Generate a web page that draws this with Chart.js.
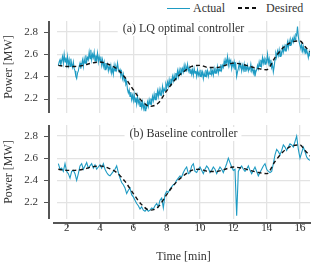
<!DOCTYPE html>
<html>
<head>
<meta charset="utf-8">
<script src="https://cdn.jsdelivr.net/npm/chart.js@4.4.1/dist/chart.umd.min.js"></script>
<style>
    html, body { margin: 0; padding: 0; background: #ffffff; }
    #wrap { position: relative; width: 311px; height: 265px; overflow: hidden; }
    #topChart { position: absolute; left: 0; top: 0; }
    #bottomChart { position: absolute; left: 0; top: 118px; }
    #legend {
        position: absolute; left: 167px; top: 1px; height: 14px;
        display: flex; align-items: center;
        font-family: "Liberation Serif", serif; font-size: 12px; color: #333333;
    }
    .legend-item { display: flex; align-items: center; margin-right: 13px; }
    .legend-line { width: 23px; height: 0; margin-right: 3px; }
</style>
</head>
<body>
<div id="wrap">
    <div id="legend"></div>
    <canvas id="topChart" width="311" height="118"></canvas>
    <canvas id="bottomChart" width="311" height="147"></canvas>
</div>
<script>
// (a) LQ optimal controller: sample times [min] and actual power [MW]
const lqTime = [
    1.50, 1.55, 1.60, 1.65, 1.70, 1.75, 1.80, 1.85, 1.90, 1.95,
    2.00, 2.05, 2.10, 2.15, 2.20, 2.25, 2.30, 2.35, 2.40, 2.45,
    2.50, 2.55, 2.60, 2.65, 2.70, 2.75, 2.80, 2.85, 2.90, 2.95,
    3.00, 3.05, 3.10, 3.15, 3.20, 3.25, 3.30, 3.35, 3.40, 3.45,
    3.50, 3.55, 3.60, 3.65, 3.70, 3.75, 3.80, 3.85, 3.90, 3.95,
    4.00, 4.05, 4.10, 4.15, 4.20, 4.25, 4.30, 4.35, 4.40, 4.45,
    4.50, 4.55, 4.60, 4.65, 4.70, 4.75, 4.80, 4.85, 4.90, 4.95,
    5.00, 5.05, 5.10, 5.15, 5.20, 5.25, 5.30, 5.35, 5.40, 5.45,
    5.50, 5.55, 5.60, 5.65, 5.70, 5.75, 5.80, 5.85, 5.90, 5.95,
    6.00, 6.05, 6.10, 6.15, 6.20, 6.25, 6.30, 6.35, 6.40, 6.45,
    6.50, 6.55, 6.60, 6.65, 6.70, 6.75, 6.80, 6.85, 6.90, 6.95,
    7.00, 7.05, 7.10, 7.15, 7.20, 7.25, 7.30, 7.35, 7.40, 7.45,
    7.50, 7.55, 7.60, 7.65, 7.70, 7.75, 7.80, 7.85, 7.90, 7.95,
    8.00, 8.05, 8.10, 8.15, 8.20, 8.25, 8.30, 8.35, 8.40, 8.45,
    8.50, 8.55, 8.60, 8.65, 8.70, 8.75, 8.80, 8.85, 8.90, 8.95,
    9.00, 9.05, 9.10, 9.15, 9.20, 9.25, 9.30, 9.35, 9.40, 9.45,
    9.50, 9.55, 9.60, 9.65, 9.70, 9.75, 9.80, 9.85, 9.90, 9.95,
    10.00, 10.05, 10.10, 10.15, 10.20, 10.25, 10.30, 10.35, 10.40, 10.45,
    10.50, 10.55, 10.60, 10.65, 10.70, 10.75, 10.80, 10.85, 10.90, 10.95,
    11.00, 11.05, 11.10, 11.15, 11.20, 11.25, 11.30, 11.35, 11.40, 11.45,
    11.50, 11.55, 11.60, 11.65, 11.70, 11.75, 11.80, 11.85, 11.90, 11.95,
    12.00, 12.05, 12.10, 12.15, 12.20, 12.25, 12.30, 12.35, 12.40, 12.45,
    12.50, 12.55, 12.60, 12.65, 12.70, 12.75, 12.80, 12.85, 12.90, 12.95,
    13.00, 13.05, 13.10, 13.15, 13.20, 13.25, 13.30, 13.35, 13.40, 13.45,
    13.50, 13.55, 13.60, 13.65, 13.70, 13.75, 13.80, 13.85, 13.90, 13.95,
    14.00, 14.05, 14.10, 14.15, 14.20, 14.25, 14.30, 14.35, 14.40, 14.45,
    14.50, 14.55, 14.60, 14.65, 14.70, 14.75, 14.80, 14.85, 14.90, 14.95,
    15.00, 15.05, 15.10, 15.15, 15.20, 15.25, 15.30, 15.35, 15.40, 15.45,
    15.50, 15.55, 15.60, 15.65, 15.70, 15.75, 15.80, 15.85, 15.90, 15.95,
    16.00, 16.05, 16.10, 16.15, 16.20, 16.25, 16.30, 16.35, 16.40, 16.45,
    16.50, 16.55, 16.60
];
const lqActual = [
    2.50, 2.53, 2.55, 2.50, 2.54, 2.58, 2.52, 2.60, 2.53, 2.57,
    2.51, 2.58, 2.50, 2.55, 2.49, 2.56, 2.51, 2.48, 2.53, 2.47,
    2.45, 2.40, 2.38, 2.43, 2.45, 2.49, 2.52, 2.47, 2.51, 2.55,
    2.49, 2.56, 2.52, 2.59, 2.53, 2.57, 2.55, 2.62, 2.56, 2.64,
    2.55, 2.60, 2.57, 2.62, 2.54, 2.59, 2.55, 2.61, 2.53, 2.58,
    2.54, 2.58, 2.50, 2.55, 2.49, 2.53, 2.46, 2.52, 2.48, 2.51,
    2.45, 2.49, 2.46, 2.50, 2.43, 2.47, 2.42, 2.50, 2.45, 2.49,
    2.46, 2.52, 2.47, 2.44, 2.46, 2.41, 2.44, 2.38, 2.42, 2.36,
    2.38, 2.33, 2.35, 2.28, 2.25, 2.28, 2.22, 2.26, 2.19, 2.23,
    2.18, 2.24, 2.17, 2.21, 2.15, 2.22, 2.16, 2.19, 2.13, 2.18,
    2.12, 2.17, 2.11, 2.15, 2.09, 2.14, 2.12, 2.17, 2.13, 2.19,
    2.15, 2.20, 2.16, 2.22, 2.18, 2.24, 2.19, 2.25, 2.21, 2.27,
    2.22, 2.28, 2.23, 2.27, 2.24, 2.31, 2.25, 2.29, 2.27, 2.33,
    2.30, 2.35, 2.31, 2.37, 2.32, 2.38, 2.34, 2.40, 2.36, 2.41,
    2.37, 2.43, 2.39, 2.45, 2.40, 2.46, 2.42, 2.48, 2.43, 2.47,
    2.44, 2.50, 2.45, 2.49, 2.46, 2.51, 2.45, 2.48, 2.43, 2.47,
    2.42, 2.46, 2.41, 2.47, 2.43, 2.45, 2.40, 2.46, 2.41, 2.44,
    2.40, 2.46, 2.41, 2.44, 2.38, 2.43, 2.40, 2.46, 2.41, 2.45,
    2.40, 2.44, 2.42, 2.48, 2.42, 2.45, 2.41, 2.47, 2.43, 2.46,
    2.44, 2.49, 2.43, 2.47, 2.45, 2.51, 2.46, 2.50, 2.48, 2.54,
    2.49, 2.55, 2.52, 2.58, 2.50, 2.55, 2.51, 2.54, 2.47, 2.52,
    2.49, 2.53, 2.46, 2.50, 2.40, 2.44, 2.47, 2.52, 2.48, 2.51,
    2.45, 2.50, 2.46, 2.51, 2.44, 2.49, 2.46, 2.50, 2.45, 2.48,
    2.46, 2.51, 2.45, 2.48, 2.43, 2.46, 2.40, 2.44, 2.46, 2.50,
    2.47, 2.53, 2.49, 2.55, 2.50, 2.57, 2.52, 2.56, 2.51, 2.55,
    2.53, 2.60, 2.52, 2.56, 2.50, 2.55, 2.48, 2.51, 2.44, 2.49,
    2.55, 2.61, 2.58, 2.63, 2.59, 2.64, 2.58, 2.62, 2.60, 2.66,
    2.62, 2.67, 2.63, 2.69, 2.65, 2.71, 2.66, 2.72, 2.68, 2.73,
    2.70, 2.74, 2.71, 2.76, 2.73, 2.78, 2.77, 2.85, 2.76, 2.71,
    2.68, 2.65, 2.69, 2.63, 2.67, 2.62, 2.65, 2.60, 2.64, 2.61,
    2.57, 2.62, 2.58
];

// (b) Baseline controller: sample times [min] and actual power [MW]
const baselineTime = [
    1.5, 1.6, 1.7, 1.8, 1.9, 2.0, 2.1, 2.2, 2.3, 2.4,
    2.5, 2.6, 2.7, 2.8, 2.9, 3.0, 3.1, 3.2, 3.3, 3.4,
    3.5, 3.6, 3.7, 3.8, 3.9, 4.0, 4.1, 4.2, 4.3, 4.4,
    4.5, 4.6, 4.7, 4.8, 4.9, 5.0, 5.1, 5.2, 5.3, 5.4,
    5.5, 5.6, 5.7, 5.8, 5.9, 6.0, 6.1, 6.2, 6.3, 6.4,
    6.5, 6.6, 6.7, 6.8, 6.9, 7.0, 7.1, 7.2, 7.3, 7.4,
    7.5, 7.6, 7.7, 7.8, 7.9, 8.0, 8.1, 8.2, 8.3, 8.4,
    8.5, 8.6, 8.7, 8.8, 8.9, 9.0, 9.1, 9.2, 9.3, 9.4,
    9.5, 9.6, 9.7, 9.8, 9.9, 10.0, 10.1, 10.2, 10.3, 10.4,
    10.5, 10.6, 10.7, 10.8, 10.9, 11.0, 11.1, 11.2, 11.3, 11.4,
    11.5, 11.6, 11.7, 11.8, 11.9, 12.0, 12.1, 12.2, 12.3, 12.4,
    12.5, 12.6, 12.7, 12.8, 12.9, 13.0, 13.1, 13.2, 13.3, 13.4,
    13.5, 13.6, 13.7, 13.8, 13.9, 14.0, 14.1, 14.2, 14.3, 14.4,
    14.5, 14.6, 14.7, 14.8, 14.9, 15.0, 15.1, 15.2, 15.3, 15.4,
    15.5, 15.6, 15.7, 15.8, 15.9, 16.0, 16.1, 16.2, 16.3, 16.4,
    16.5, 16.6
];
const baselineActual = [
    2.55, 2.50, 2.51, 2.48, 2.55, 2.48, 2.46, 2.42, 2.48, 2.49,
    2.46, 2.40, 2.46, 2.53, 2.55, 2.50, 2.53, 2.56, 2.51, 2.53,
    2.55, 2.51, 2.54, 2.50, 2.52, 2.54, 2.51, 2.55, 2.50, 2.47,
    2.45, 2.44, 2.46, 2.48, 2.50, 2.53, 2.47, 2.42, 2.38, 2.36,
    2.33, 2.28, 2.31, 2.33, 2.27, 2.25, 2.22, 2.19, 2.17, 2.14,
    2.16, 2.13, 2.12, 2.14, 2.12, 2.13, 2.15, 2.14, 2.17, 2.19,
    2.16, 2.22, 2.24, 2.15, 2.27, 2.30, 2.29, 2.32, 2.34, 2.36,
    2.37, 2.40, 2.42, 2.44, 2.43, 2.47, 2.50, 2.52, 2.46, 2.47,
    2.53, 2.55, 2.48, 2.47, 2.50, 2.52, 2.49, 2.46, 2.50, 2.53,
    2.51, 2.47, 2.49, 2.52, 2.50, 2.46, 2.49, 2.52, 2.50, 2.47,
    2.51, 2.55, 2.60, 2.56, 2.52, 2.49, 2.50, 2.08, 2.48, 2.51,
    2.53, 2.50, 2.48, 2.50, 2.53, 2.49, 2.46, 2.49, 2.52, 2.48,
    2.44, 2.47, 2.50, 2.53, 2.55, 2.50, 2.48, 2.47, 2.48, 2.55,
    2.63, 2.68, 2.66, 2.63, 2.67, 2.72, 2.70, 2.67, 2.70, 2.73,
    2.72, 2.70, 2.75, 2.80, 2.68, 2.60, 2.65, 2.70, 2.66, 2.61,
    2.59, 2.58
];

// desired power reference (same for both controllers)
const desiredTime = [
    1.5, 2, 2.5, 3, 3.5, 4, 4.5, 5, 5.5, 6, 6.5, 7, 7.5, 8, 8.5, 9,
    9.5, 10, 10.5, 11, 11.5, 12, 12.5, 13, 13.5, 14, 14.5, 15, 15.5, 16, 16.3, 16.6
];
const desiredPower = [
    2.50, 2.49, 2.49, 2.50, 2.52, 2.53, 2.51, 2.47, 2.39, 2.28, 2.18, 2.13, 2.16, 2.27, 2.37, 2.44,
    2.49, 2.50, 2.48, 2.48, 2.50, 2.52, 2.51, 2.49, 2.47, 2.46, 2.57, 2.66, 2.71, 2.72, 2.67, 2.62
];

const xTicks = [2, 4, 6, 8, 10, 12, 14, 16];
const yTicks = [2.2, 2.4, 2.6, 2.8];

const ACTUAL_COLOR = "#1e9bc3";
const TEXT_COLOR = "#333333";
const GRID_COLOR = "#e3e3e3";
const SPINE_COLOR = "#555555";
const FONT = "Liberation Serif";

function toPoints(xs, ys) {
    return xs.map((x, i) => ({ x: x, y: ys[i] }));
}

// offset spines and panel titles, matplotlib style
const decorPlugin = {
    id: "decor",
    beforeDatasetsDraw(chart, args, opts) {
        const { ctx, chartArea } = chart;
        ctx.save();
        ctx.font = "12px '" + FONT + "'";
        const w = ctx.measureText(opts.title).width;
        const cx = (chartArea.left + chartArea.right) / 2;
        const cy = chartArea.top + opts.titleOffset;
        ctx.fillStyle = "#ffffff";
        ctx.fillRect(cx - w / 2 - 5, cy - 7, w + 9, 14);
        ctx.fillStyle = TEXT_COLOR;
        ctx.textAlign = "center";
        ctx.textBaseline = "middle";
        ctx.fillText(opts.title, cx, cy);
        ctx.restore();
    },
    afterDraw(chart, args, opts) {
        const { ctx, chartArea, scales } = chart;
        ctx.save();
        ctx.strokeStyle = SPINE_COLOR;

        const sx = chartArea.left - 8;
        ctx.lineWidth = 2;
        ctx.beginPath();
        ctx.moveTo(sx, chartArea.top);
        ctx.lineTo(sx, chartArea.bottom);
        ctx.stroke();

        ctx.lineWidth = 1;
        ctx.beginPath();
        scales.y.ticks.forEach(t => {
            const y = Math.round(scales.y.getPixelForValue(t.value)) + 0.5;
            ctx.moveTo(sx - 5, y);
            ctx.lineTo(sx, y);
        });
        ctx.stroke();

        if (opts.xAxis) {
            const sy = chartArea.bottom + 4;
            ctx.lineWidth = 2;
            ctx.beginPath();
            ctx.moveTo(chartArea.left - 4, sy);
            ctx.lineTo(chartArea.right + 1, sy);
            ctx.stroke();

            ctx.lineWidth = 1;
            ctx.beginPath();
            scales.x.ticks.forEach(t => {
                const x = Math.round(scales.x.getPixelForValue(t.value)) + 0.5;
                ctx.moveTo(x, sy);
                ctx.lineTo(x, sy + 5);
            });
            ctx.stroke();
        }
        ctx.restore();
    }
};

function makePanel(canvasId, times, actual, panel) {

    const ctx = document.getElementById(canvasId).getContext("2d");

    return new Chart(ctx, {

        type: "line",

        data: {
            datasets: [
                {
                    label: "Actual",
                    data: toPoints(times, actual),
                    borderColor: ACTUAL_COLOR,
                    borderWidth: panel.actualWidth,
                    pointRadius: 0,
                    tension: 0,
                    order: 1
                },
                {
                    label: "Desired",
                    data: toPoints(desiredTime, desiredPower),
                    borderColor: "#111111",
                    borderWidth: 1.4,
                    borderDash: [4, 3],
                    pointRadius: 0,
                    cubicInterpolationMode: "monotone",
                    order: 0
                }
            ]
        },

        options: {
            responsive: false,
            animation: false,
            layout: {
                padding: { top: panel.padTop, bottom: panel.padBottom, left: 0, right: 1 }
            },
            plugins: {
                legend: { display: false },
                tooltip: { enabled: false },
                decor: { title: panel.title, titleOffset: panel.titleOffset, xAxis: panel.xAxis }
            },
            scales: {
                x: {
                    type: "linear",
                    min: 1.42,
                    max: 16.6,
                    afterBuildTicks: s => { s.ticks = xTicks.map(v => ({ value: v })); },
                    afterFit: s => {
                        s.height = panel.xHeight;
                        s.paddingLeft = 0;
                        s.paddingRight = 0;
                    },
                    border: { display: false },
                    grid: { color: GRID_COLOR, lineWidth: 1.3, drawTicks: false },
                    ticks: {
                        display: panel.xAxis,
                        color: TEXT_COLOR,
                        padding: 3,
                        maxRotation: 0,
                        font: { family: FONT, size: 11 }
                    },
                    title: {
                        display: panel.xAxis,
                        text: "Time [min]",
                        color: TEXT_COLOR,
                        padding: { top: 0, bottom: 1 },
                        font: { family: FONT, size: 12 }
                    }
                },
                y: {
                    min: panel.yMin,
                    max: 2.9,
                    afterBuildTicks: s => { s.ticks = yTicks.map(v => ({ value: v })); },
                    afterFit: s => {
                        s.width = 57;
                        s.paddingTop = 0;
                        s.paddingBottom = 0;
                    },
                    border: { display: false },
                    grid: { color: GRID_COLOR, lineWidth: 1.3, drawTicks: false },
                    ticks: {
                        color: TEXT_COLOR,
                        padding: 19,
                        font: { family: FONT, size: 11 },
                        callback: v => v.toFixed(1)
                    },
                    title: {
                        display: true,
                        text: "Power [MW]",
                        color: TEXT_COLOR,
                        padding: { top: 2, bottom: 0 },
                        font: { family: FONT, size: 12 }
                    }
                }
            }
        },

        plugins: [decorPlugin]
    });
}

const topChart = makePanel("topChart", lqTime, lqActual, {
    title: "(a) LQ optimal controller",
    titleOffset: 8,
    padTop: 21,
    padBottom: 5,
    xHeight: 0,
    xAxis: false,
    yMin: 2.07,
    actualWidth: 1.1
});

const bottomChart = makePanel("bottomChart", baselineTime, baselineActual, {
    title: "(b) Baseline controller",
    titleOffset: 9,
    padTop: 7,
    padBottom: 0,
    xHeight: 46,
    xAxis: true,
    yMin: 2.05,
    actualWidth: 1.1
});

// legend built from the top panel's datasets
const legendBox = document.getElementById("legend");

topChart.data.datasets.forEach(ds => {

    const item = document.createElement("div");
    item.className = "legend-item";

    const line = document.createElement("span");
    line.className = "legend-line";

    if (ds.borderDash) {
        line.style.width = "21px";
        line.style.height = "1.2px";
        line.style.background =
            "repeating-linear-gradient(90deg, " + ds.borderColor + " 0 4px, transparent 4px 7px)";
        line.style.marginRight = "7px";
    } else {
        line.style.borderTop = "1px solid " + ds.borderColor;
    }

    const text = document.createElement("span");
    text.textContent = ds.label;

    item.appendChild(line);
    item.appendChild(text);
    legendBox.appendChild(item);
});
</script>
</body>
</html>
